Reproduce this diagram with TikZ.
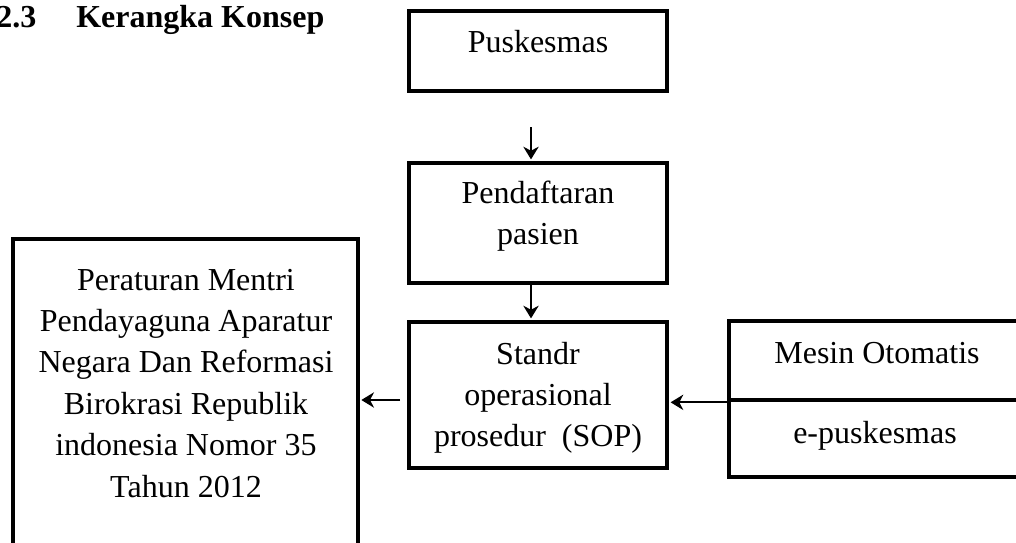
\documentclass[tikz,border=0pt]{standalone}
\usepackage{fontspec}
\setmainfont{Liberation Serif}
\usetikzlibrary{arrows.meta}
\tikzset{
  box/.style={draw, line width=3pt, rectangle, inner sep=0pt, minimum width=193.5pt},
  txt/.style={inner sep=0pt, anchor=base, font=\fontsize{24}{31.1}\selectfont},
  ttl/.style={inner sep=0pt, anchor=base west, font=\fontsize{24}{29}\selectfont\bfseries},
  conn/.style={line width=1.45pt, shorten >=1.2pt, -{Stealth[length=9.5pt,width=11.5pt,inset=3pt]}},
}
\newcommand{\mlines}[1]{\begin{tabular}[t]{@{}c@{}}#1\end{tabular}}
\begin{document}
\begin{tikzpicture}[x=0.75pt,y=-0.75pt]
\useasboundingbox (0,0) rectangle (1016,542);
\clip (0,0) rectangle (1016,542);
\fill[white] (0,0) rectangle (1016,542);

% title
\node[ttl] (num) at (-4,28) {2.3};
\node[ttl] (title) at (76,28) {Kerangka Konsep};

% boxes
\node[box, minimum height=60pt] (pusk) at (538,51) {};
\node[txt] (tpusk) at (538,53) {Puskesmas};

\node[box, minimum height=90pt] (pend) at (538,223) {};
\node[txt] (tpend) at (538,203) {\mlines{Pendaftaran\\pasien}};

\node[box, minimum height=109.5pt] (sop) at (538,395) {};
\node[txt] (tsop) at (538,364) {\mlines{Standr\\operasional\\prosedur~~(SOP)}};

\node[box, line width=3.5pt, minimum width=221.25pt, minimum height=59.25pt] (mesin) at (876.5,360.5) {};
\node[txt] (tmesin) at (877,363) {Mesin Otomatis};
\node[box, line width=3.5pt, minimum width=221.25pt, minimum height=57.75pt] (epus) at (876.5,438.5) {};
\node[txt] (tepus) at (875,443) {e-puskesmas};

\node[box, line width=2.6pt, minimum width=258.75pt, minimum height=248.25pt] (per) at (185.5,404.5) {};
\node[txt] (tper) at (186,290) {\mlines{Peraturan Mentri\\Pendayaguna Aparatur\\Negara Dan Reformasi\\Birokrasi Republik\\indonesia Nomor 35\\Tahun 2012}};

% connectors
\coordinate (a1) at (531,127);
\draw[conn] (a1) -- (a1 |- pend.north);
\draw[conn] (pend.south -| a1) -- (sop.north -| a1);
\draw[conn] (mesin.south west) -- (mesin.south west -| sop.east);
\coordinate (a2) at (400,400);
\draw[conn] (a2) -- (a2 -| per.east);
\end{tikzpicture}
\end{document}
